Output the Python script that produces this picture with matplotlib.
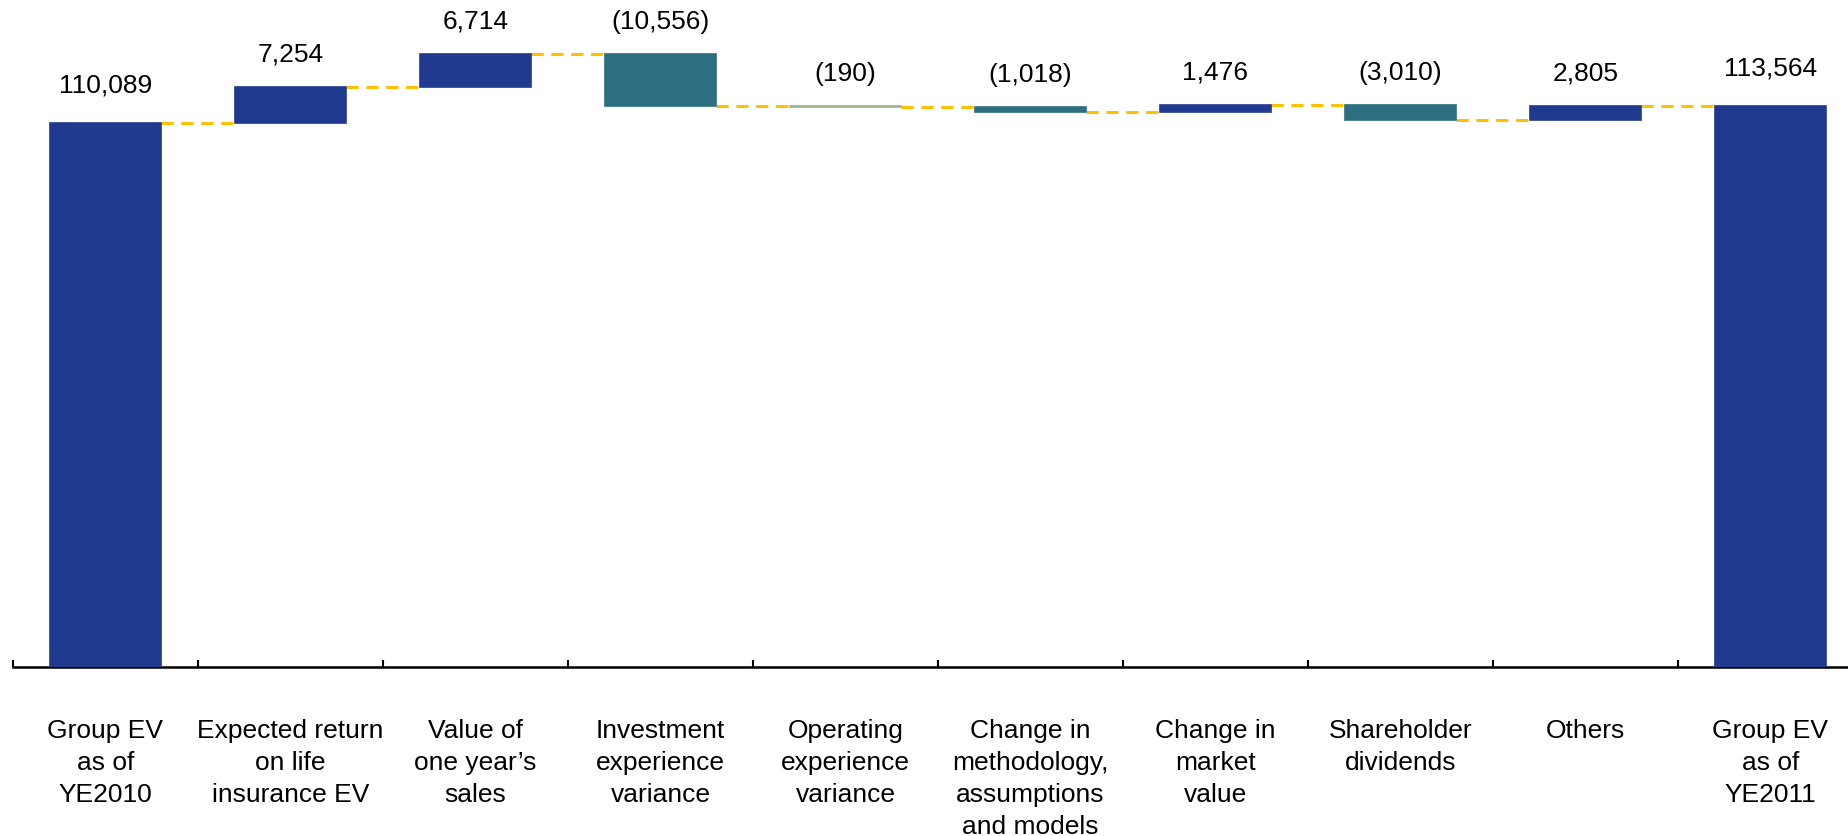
import numpy as np
import matplotlib
matplotlib.use('Agg')
import matplotlib.pyplot as plt

plt.rcParams['font.family'] = ['Liberation Sans', 'DejaVu Sans']

categories = ['Group EV\nas of\nYE2010', 'Expected return\non life\ninsurance EV',
              'Value of\none year\u2019s\nsales', 'Investment\nexperience\nvariance',
              'Operating\nexperience\nvariance', 'Change in\nmethodology,\nassumptions\nand models',
              'Change in\nmarket\nvalue', 'Shareholder\ndividends', 'Others',
              'Group EV\nas of\nYE2011']
start_value = 110089
changes = [7254, 6714, -10556, -190, -1018, 1476, -3010, 2805]
end_value = 113564

blue = '#203A8F'
teal = '#2D6F80'
sage = '#9BB28A'
gold = '#FFC000'

# bottoms / heights for each bar of the waterfall
level = start_value
bottoms = [0]
heights = [start_value]
tops = [start_value]
levels_after = [start_value]
for c in changes:
    new_level = level + c
    bottoms.append(min(level, new_level))
    heights.append(abs(c))
    tops.append(max(level, new_level))
    levels_after.append(new_level)
    level = new_level
bottoms.append(0)
heights.append(end_value)
tops.append(end_value)
levels_after.append(end_value)

colors = [blue]
for c in changes:
    if c >= 0:
        colors.append(blue)
    elif abs(c) < 500:
        colors.append(sage)
    else:
        colors.append(teal)
colors.append(blue)

labels = [f'{start_value:,}'] + [f'{c:,}' if c >= 0 else f'({-c:,})' for c in changes] + [f'{end_value:,}']

fig = plt.figure(figsize=(18.48, 8.37), dpi=100)
ax = fig.add_axes([13 / 1848, 169 / 837, 1 - 13 / 1848, 668 / 837])

x = np.arange(len(categories))
width = 0.6
# thin edge in the face colour keeps the tiny bars visible
ax.bar(x, heights, width, bottom=bottoms, color=colors, edgecolor=colors, lw=1.2, zorder=3)

# dashed connectors between consecutive bars
for i in range(len(categories) - 1):
    ax.plot([x[i] + width / 2, x[i + 1] - width / 2], [levels_after[i], levels_after[i]],
            color=gold, lw=2.2, ls=(0, (4, 2.5)), zorder=2)

for i, lab in enumerate(labels):
    off = 28 if i in (0, len(labels) - 1) else 24
    ax.annotate(lab, (x[i], tops[i]), xytext=(0, off), textcoords='offset points',
                ha='center', va='center', fontsize=19)

ax.set_xlim(-0.5, 9.42)
ax.set_ylim(0, 135200)

for s in ['top', 'right', 'left']:
    ax.spines[s].set_visible(False)
ax.spines['bottom'].set_linewidth(1.8)
ax.set_yticks([])

ax.set_xticks(x)
ax.set_xticklabels(categories, fontsize=19, linespacing=1.42, va='top')
ax.tick_params(axis='x', which='major', length=0, pad=37)
ax.set_xticks(np.arange(-0.5, 9.5, 1.0), minor=True)
ax.tick_params(axis='x', which='minor', direction='in', length=5, width=1.5)

fig.savefig('out.png', dpi=100)
